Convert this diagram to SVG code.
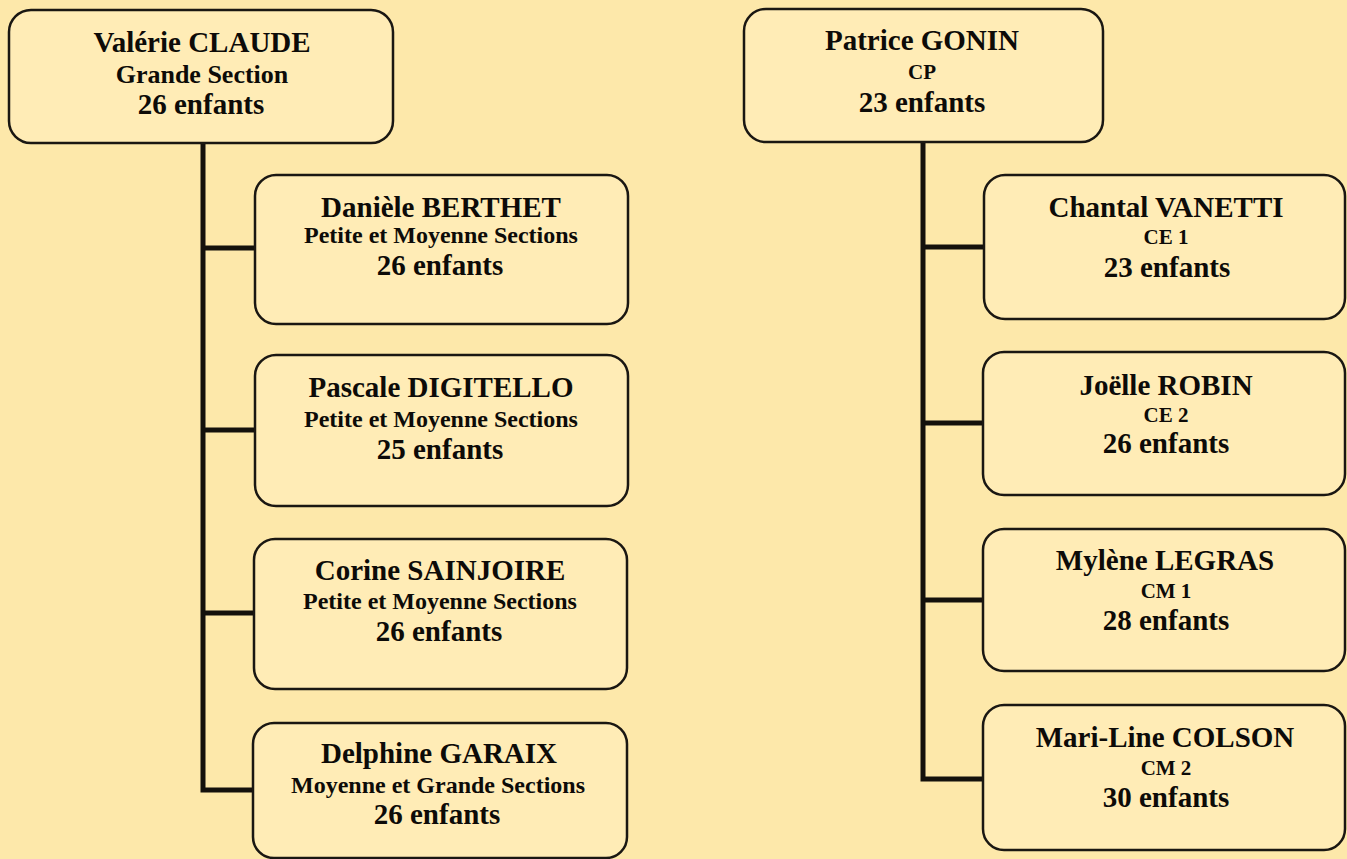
<svg xmlns="http://www.w3.org/2000/svg" width="1347" height="859" viewBox="0 0 1347 859">
<style>
.bg{fill:#FDE8AA}
.box{fill:#FFECB6;stroke:#1a1712;stroke-width:2.5}
.conn{fill:none;stroke:#14110c;stroke-width:5;stroke-linejoin:miter}
text{font-family:"Liberation Serif","Times New Roman",serif;font-weight:bold;fill:#0d0b08;text-anchor:middle}
.n{font-size:29px}
.s{font-size:24px}
.g{font-size:26px}
.c{font-size:21px}
.k{font-size:29px}
</style>
<rect class="bg" x="0" y="0" width="1347" height="859"/>
<g id="connectors">
<path class="conn" d="M203,143 V790 H255"/>
<path class="conn" d="M203,248 H255"/>
<path class="conn" d="M203,430 H255"/>
<path class="conn" d="M203,613 H255"/>
<path class="conn" d="M923,142 V779 H983"/>
<path class="conn" d="M923,247 H983"/>
<path class="conn" d="M923,423 H983"/>
<path class="conn" d="M923,600 H983"/>
</g>
<g id="valerie">
<rect class="box" x="9" y="10" width="384" height="133" rx="22"/>
<text class="n" x="202" y="52">Valérie CLAUDE</text>
<text class="g" x="202" y="83">Grande Section</text>
<text class="k" x="201" y="114">26 enfants</text>
</g>
<g id="daniele">
<rect class="box" x="255" y="175" width="373" height="149" rx="21"/>
<text class="n" x="441" y="217">Danièle BERTHET</text>
<text class="s" x="441" y="243">Petite et Moyenne Sections</text>
<text class="k" x="440" y="275">26 enfants</text>
</g>
<g id="pascale">
<rect class="box" x="255" y="355" width="373" height="151" rx="21"/>
<text class="n" x="441" y="397">Pascale DIGITELLO</text>
<text class="s" x="441" y="427">Petite et Moyenne Sections</text>
<text class="k" x="440" y="459">25 enfants</text>
</g>
<g id="corine">
<rect class="box" x="254" y="539" width="373" height="150" rx="21"/>
<text class="n" x="440" y="580">Corine SAINJOIRE</text>
<text class="s" x="440" y="609">Petite et Moyenne Sections</text>
<text class="k" x="439" y="641">26 enfants</text>
</g>
<g id="delphine">
<rect class="box" x="253" y="723" width="374" height="135" rx="21"/>
<text class="n" x="439" y="763">Delphine GARAIX</text>
<text class="s" x="438" y="793">Moyenne et Grande Sections</text>
<text class="k" x="437" y="824">26 enfants</text>
</g>
<g id="patrice">
<rect class="box" x="744" y="9" width="359" height="133" rx="22"/>
<text class="n" x="922" y="50">Patrice GONIN</text>
<text class="c" x="922" y="79">CP</text>
<text class="k" x="922" y="112">23 enfants</text>
</g>
<g id="chantal">
<rect class="box" x="984" y="175" width="361" height="144" rx="21"/>
<text class="n" x="1166" y="217">Chantal VANETTI</text>
<text class="c" x="1166" y="244">CE 1</text>
<text class="k" x="1167" y="277">23 enfants</text>
</g>
<g id="joelle">
<rect class="box" x="983" y="352" width="362" height="143" rx="21"/>
<text class="n" x="1166" y="395">Joëlle ROBIN</text>
<text class="c" x="1166" y="422">CE 2</text>
<text class="k" x="1166" y="453">26 enfants</text>
</g>
<g id="mylene">
<rect class="box" x="983" y="529" width="362" height="142" rx="21"/>
<text class="n" x="1165" y="570">Mylène LEGRAS</text>
<text class="c" x="1166" y="598">CM 1</text>
<text class="k" x="1166" y="630">28 enfants</text>
</g>
<g id="mariline">
<rect class="box" x="983" y="705" width="362" height="145" rx="21"/>
<text class="n" x="1165" y="747">Mari-Line COLSON</text>
<text class="c" x="1166" y="775">CM 2</text>
<text class="k" x="1166" y="807">30 enfants</text>
</g>
</svg>
